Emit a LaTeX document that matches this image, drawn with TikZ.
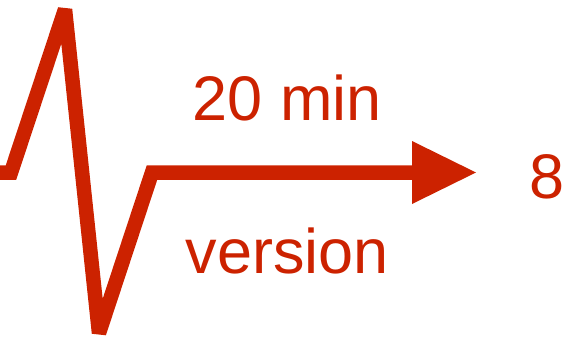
\documentclass[tikz,border=0pt]{standalone}
\usepackage{fontspec}
\setmainfont{Liberation Sans}
\definecolor{zred}{RGB}{204,34,0}
\begin{document}
\begin{tikzpicture}[x=1pt,y=-1pt,
  zline/.style={draw=zred,line width=14.5pt,line join=miter,miter limit=2},
  zhead/.style={fill=zred,draw=none},
  ztext/.style={text=zred,font=\fontsize{63}{63}\selectfont,inner sep=0pt}]
\useasboundingbox (0,0) rectangle (563,346);
\clip (0,0) rectangle (563,346);
\coordinate (s) at (-10,172.5);
\coordinate (c1) at (11,172.5);
\coordinate (pk) at (65,9.5);
\coordinate (bt) at (99,333);
\coordinate (c2) at (152,172.5);
\coordinate (hb) at (412,172.5);
\coordinate (ht) at (476,172.5);
\coordinate (hu) at (412,141);
\coordinate (hd) at (412,204);
\draw[zline] (s) -- (c1) -- (pk) -- (bt) -- (c2) -- ([xshift=1pt]hb);
\fill[zhead] (hu) -- (ht) -- (hd) -- cycle;
\node[ztext,anchor=base] (t1) at (287.5,120) {20 min};
\node[ztext,anchor=base] (t2) at (287.5,273) {version};
\node[ztext,anchor=base west] (t3) at (529.5,198) {8};
\end{tikzpicture}
\end{document}
